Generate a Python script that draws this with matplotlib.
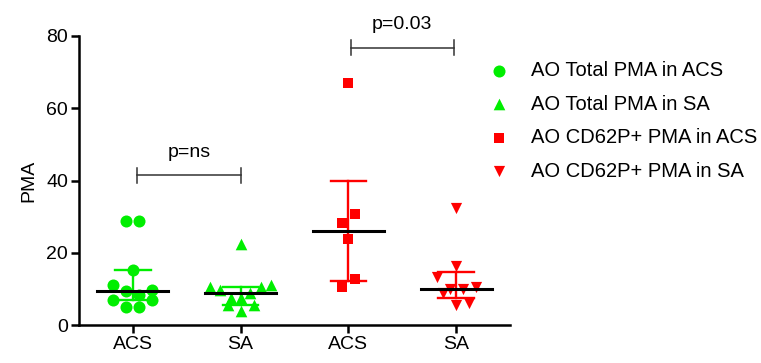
import matplotlib
matplotlib.use("Agg")
import matplotlib.pyplot as plt
import numpy as np

plt.rcParams['font.family'] = ['Liberation Sans', 'DejaVu Sans']

# data
groups = ["ACS", "SA", "ACS", "SA"]
labels = ["AO Total PMA in ACS", "AO Total PMA in SA",
          "AO CD62P+ PMA in ACS", "AO CD62P+ PMA in SA"]
total_acs = [28.7, 28.7, 15.2, 11.1, 9.7, 9.4, 8.3, 6.9, 6.9, 5.1, 5.1]
total_sa = [22.4, 11.1, 10.6, 10.6, 9.7, 8.8, 7.4, 7.4, 5.5, 5.5, 4.0]
cd62_acs = [67.0, 30.7, 28.2, 23.7, 12.7, 10.6]
cd62_sa = [32.5, 16.2, 13.4, 10.0, 10.0, 10.4, 8.8, 5.5, 6.0]
p_labels = ["p=ns", "p=0.03"]

# scatter jitter (layout only)
jit = [
    [-0.06, 0.06, 0, -0.18, 0.18, -0.06, 0.06, -0.18, 0.18, -0.06, 0.06],
    [0, 0.28, -0.28, 0.19, -0.19, 0.09, -0.09, 0, -0.12, 0.12, 0],
    [0, 0.06, -0.06, 0, 0.06, -0.06],
    [0, 0, -0.18, -0.06, 0.06, 0.18, -0.12, 0, 0.12],
]

series = [total_acs, total_sa, cd62_acs, cd62_sa]
colors = ["#00ee00", "#00ee00", "#ff0000", "#ff0000"]
markers = ["o", "^", "s", "v"]
msize = [75, 70, 60, 65]
fs = 14

fig = plt.figure(figsize=(7.61, 3.63), dpi=100)
ax = fig.add_axes([79/761, 1-325/363, 431/761, 289/363])

for i, vals in enumerate(series):
    v = np.array(vals)
    x = i + np.array(jit[i])
    ax.scatter(x, v, s=msize[i], marker=markers[i], color=colors[i],
               linewidths=0, zorder=3, label=labels[i], clip_on=False)
    q1, med, q3 = np.percentile(v, [25, 50, 75], method="weibull")
    ax.plot([i, i], [q1, q3], color=colors[i], lw=1.7, zorder=2)
    ax.plot([i-0.165, i+0.165], [q1, q1], color=colors[i], lw=1.7, zorder=2)
    ax.plot([i-0.165, i+0.165], [q3, q3], color=colors[i], lw=1.7, zorder=2)
    ax.plot([i-0.33, i+0.33], [med, med], color="black", lw=2.2, zorder=4)

# significance brackets
for (x0, x1, y), txt in zip([(0.04, 1.0, 41.4), (2.02, 2.98, 76.8)], p_labels):
    c = "#333333"
    ax.plot([x0, x1], [y, y], color=c, lw=1.1, clip_on=False)
    ax.plot([x0, x0], [y-2, y+2], color=c, lw=1.1, clip_on=False)
    ax.plot([x1, x1], [y-2, y+2], color=c, lw=1.1, clip_on=False)
    ax.text((x0+x1)/2, y+4, txt, ha="center", va="bottom", fontsize=fs)

ax.set_xlim(-0.5, 3.5)
ax.set_ylim(0, 80)
ax.set_xticks(range(4))
ax.set_xticklabels(groups)
ax.set_yticks([0, 20, 40, 60, 80])
ax.set_ylabel("PMA", fontsize=fs, labelpad=6)
for s in ["top", "right"]:
    ax.spines[s].set_visible(False)
for s in ["left", "bottom"]:
    ax.spines[s].set_linewidth(1.8)
ax.tick_params(axis="both", width=1.8, length=6, labelsize=fs, pad=2)

fig.legend(loc="upper left", bbox_to_anchor=(461/761, 1-43/363),
           frameon=False, fontsize=14.5, labelspacing=0.72,
           handletextpad=0.6, scatterpoints=1)

fig.savefig("out.png", dpi=100)
